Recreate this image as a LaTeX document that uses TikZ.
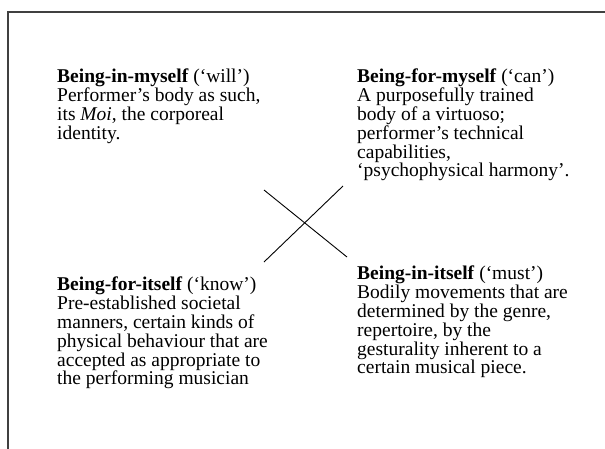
\documentclass[tikz,border=0pt]{standalone}
\usepackage{fontspec}
\setmainfont{Liberation Serif}
\usepackage{tikz}

\tikzset{
  quad/.style={anchor=north west, align=left, inner sep=0pt,
    font=\fontsize{19.5}{18.8}\selectfont},
  frame/.style={line width=1.4pt, draw=black!75},
  cross/.style={line width=0.9pt}
}

\begin{document}
\begin{tikzpicture}[x=1pt, y=-1pt]
  \useasboundingbox (0,0) rectangle (605,448);
  % open frame, running off the page at right and bottom
  \draw[frame] (8,460) -- (8,12) -- (615,12);

  \node[quad] (will) at (57,69)
    {\textbf{Being-in-myself} (`will')\\
     Performer's body as such,\\
     its \textit{Moi}, the corporeal\\
     identity.};
  \node[quad] (can) at (357,69)
    {\textbf{Being-for-myself} (`can')\\
     A purposefully trained\\
     body of a virtuoso;\\
     performer's technical\\
     capabilities,\\
     `psychophysical harmony'.};
  \node[quad] (know) at (57,277)
    {\textbf{Being-for-itself} (`know')\\
     Pre-established societal\\
     manners, certain kinds of\\
     physical behaviour that are\\
     accepted as appropriate to\\
     the performing musician};
  \node[quad] (must) at (357,266)
    {\textbf{Being-in-itself} (`must')\\
     Bodily movements that are\\
     determined by the genre,\\
     repertoire, by the\\
     gesturality inherent to a\\
     certain musical piece.};

  % the cross between the four quadrants
  \coordinate (nw) at (264,190);
  \coordinate (se) at (347,257);
  \coordinate (ne) at (343,186);
  \coordinate (sw) at (264,262);
  \draw[cross] (nw) -- (se);
  \draw[cross] (ne) -- (sw);
\end{tikzpicture}
\end{document}
